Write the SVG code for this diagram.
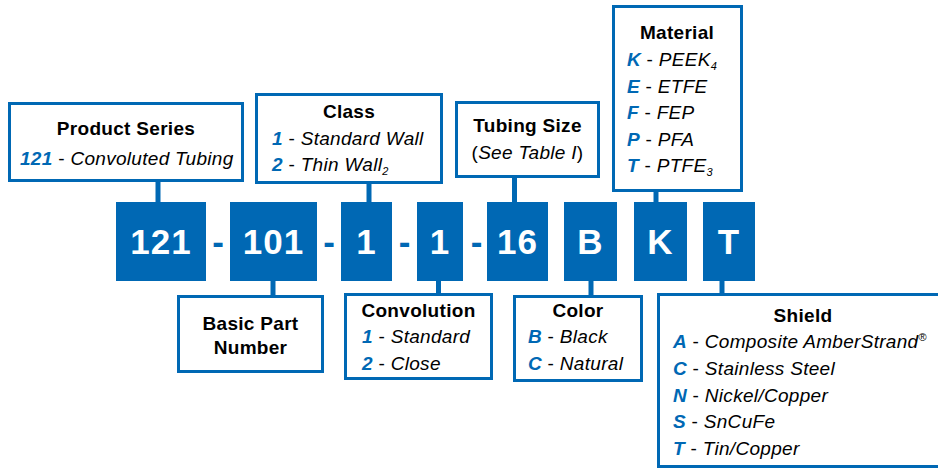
<svg xmlns="http://www.w3.org/2000/svg" width="938" height="470" viewBox="0 0 938 470">
<style>
.box{fill:#fff;stroke:#0068b4;stroke-width:3}
.code{fill:#0068b4}
.ct{font-family:"Liberation Sans",Arial,sans-serif;font-weight:bold;font-size:35px;fill:#fff;text-anchor:middle;letter-spacing:1px}
.dash{font-family:"Liberation Sans",Arial,sans-serif;font-weight:bold;font-size:35px;fill:#0068b4;text-anchor:middle}
.t{font-family:"Liberation Sans",Arial,sans-serif;font-size:19px;letter-spacing:0.3px;fill:#000}
.h{font-weight:bold;text-anchor:middle}
.k{font-weight:bold;font-style:italic;fill:#0068b4}
.i{font-style:italic}
.sub{font-size:11px;font-style:italic}
.sup{font-size:11px}
#connectors line{stroke:#0068b4;stroke-width:5}
</style>
<rect width="938" height="470" fill="#fff"/>
<g id="connectors">
<line x1="158" y1="182" x2="158" y2="203"/>
<line x1="369" y1="184" x2="369" y2="203"/>
<line x1="514.5" y1="178" x2="514.5" y2="203"/>
<line x1="656" y1="192" x2="656" y2="203"/>
<line x1="273" y1="280" x2="273" y2="295"/>
<line x1="438.5" y1="280" x2="438.5" y2="293"/>
<line x1="591" y1="280" x2="591" y2="295"/>
<line x1="722" y1="280" x2="722" y2="293"/>
</g>
<g id="dashes">
<text class="dash" x="218" y="254">-</text>
<text class="dash" x="329" y="254">-</text>
<text class="dash" x="404.5" y="254">-</text>
<text class="dash" x="476.5" y="254">-</text>
</g>
<g id="code-121"><rect class="code" x="116" y="202" width="90" height="79"/><text class="ct" x="161" y="254">121</text></g>
<g id="code-101"><rect class="code" x="230" y="202" width="87" height="79"/><text class="ct" x="273.5" y="254">101</text></g>
<g id="code-class"><rect class="code" x="341" y="202" width="51" height="79"/><text class="ct" x="366.5" y="254">1</text></g>
<g id="code-conv"><rect class="code" x="417" y="202" width="46" height="79"/><text class="ct" x="440" y="254">1</text></g>
<g id="code-16"><rect class="code" x="487" y="202" width="61" height="79"/><text class="ct" x="517.5" y="254">16</text></g>
<g id="code-B"><rect class="code" x="564" y="202" width="53" height="79"/><text class="ct" x="590.5" y="254">B</text></g>
<g id="code-K"><rect class="code" x="634" y="202" width="53" height="79"/><text class="ct" x="660.5" y="254">K</text></g>
<g id="code-T"><rect class="code" x="703" y="202" width="52" height="79"/><text class="ct" x="729" y="254">T</text></g>

<g id="product-series">
<rect class="box" x="9.5" y="103.5" width="233" height="77"/>
<text class="t h" x="126" y="135">Product Series</text>
<text class="t" x="20" y="165"><tspan class="k">121</tspan> - <tspan class="i">Convoluted Tubing</tspan></text>
</g>
<g id="class">
<rect class="box" x="256.5" y="94.5" width="185" height="88"/>
<text class="t h" x="349" y="118">Class</text>
<text class="t" x="272" y="145"><tspan class="k">1</tspan> - <tspan class="i">Standard Wall</tspan></text>
<text class="t" x="272" y="171"><tspan class="k">2</tspan> - <tspan class="i">Thin Wall</tspan><tspan class="sub" dy="4">2</tspan></text>
</g>
<g id="tubing-size">
<rect class="box" x="456.5" y="102.5" width="142" height="74"/>
<text class="t h" x="527.5" y="132">Tubing Size</text>
<text class="t" x="527.5" y="159" text-anchor="middle">(<tspan class="i">See Table I</tspan>)</text>
</g>
<g id="material">
<rect class="box" x="613.5" y="6.5" width="128" height="184"/>
<text class="t h" x="677" y="39">Material</text>
<text class="t" x="627" y="66"><tspan class="k">K</tspan> - <tspan class="i">PEEK</tspan><tspan class="sub" dy="4">4</tspan></text>
<text class="t" x="627" y="92.5"><tspan class="k">E</tspan> - <tspan class="i">ETFE</tspan></text>
<text class="t" x="627" y="119"><tspan class="k">F</tspan> - <tspan class="i">FEP</tspan></text>
<text class="t" x="627" y="145.5"><tspan class="k">P</tspan> - <tspan class="i">PFA</tspan></text>
<text class="t" x="627" y="172"><tspan class="k">T</tspan> - <tspan class="i">PTFE</tspan><tspan class="sub" dy="4">3</tspan></text>
</g>
<g id="basic-part-number">
<rect class="box" x="178.5" y="296.5" width="144" height="75"/>
<text class="t h" x="250.5" y="330">Basic Part</text>
<text class="t h" x="250.5" y="354">Number</text>
</g>
<g id="convolution">
<rect class="box" x="345.5" y="294.5" width="146" height="84"/>
<text class="t h" x="418.5" y="317">Convolution</text>
<text class="t" x="362" y="343"><tspan class="k">1</tspan> - <tspan class="i">Standard</tspan></text>
<text class="t" x="362" y="370"><tspan class="k">2</tspan> - <tspan class="i">Close</tspan></text>
</g>
<g id="color">
<rect class="box" x="514.5" y="296.5" width="127" height="84"/>
<text class="t h" x="578" y="317">Color</text>
<text class="t" x="528" y="343"><tspan class="k">B</tspan> - <tspan class="i">Black</tspan></text>
<text class="t" x="528" y="370"><tspan class="k">C</tspan> - <tspan class="i">Natural</tspan></text>
</g>
<g id="shield">
<rect class="box" x="658.5" y="294.5" width="300" height="172"/>
<text class="t h" x="803" y="322">Shield</text>
<text class="t" x="673" y="348"><tspan class="k">A</tspan> - <tspan class="i">Composite AmberStrand</tspan><tspan class="sup" dy="-7">®</tspan></text>
<text class="t" x="673" y="375"><tspan class="k">C</tspan> - <tspan class="i">Stainless Steel</tspan></text>
<text class="t" x="673" y="402"><tspan class="k">N</tspan> - <tspan class="i">Nickel/Copper</tspan></text>
<text class="t" x="673" y="428"><tspan class="k">S</tspan> - <tspan class="i">SnCuFe</tspan></text>
<text class="t" x="673" y="455"><tspan class="k">T</tspan> - <tspan class="i">Tin/Copper</tspan></text>
</g>
</svg>
